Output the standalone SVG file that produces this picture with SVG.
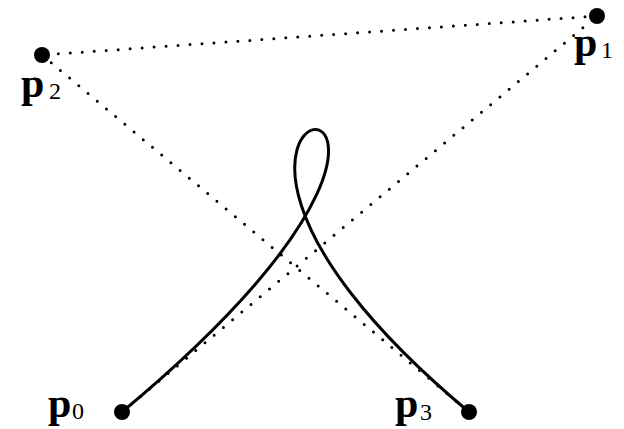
<svg xmlns="http://www.w3.org/2000/svg" width="624" height="429" viewBox="0 0 624 429">
<style>
.dot{fill:#000}
.ctl{fill:none;stroke:#000;stroke-width:3;stroke-linecap:round;stroke-dasharray:0 12}
.crv{fill:none;stroke:#000;stroke-width:3}
.lbl{font-family:"Liberation Serif","Times New Roman",serif;font-size:42px;font-weight:bold;fill:#000}
.sub{font-family:"Liberation Serif","Times New Roman",serif;font-size:24px;font-weight:normal;fill:#000}
</style>
<rect width="624" height="429" fill="#fff"/>
<g id="connectors">
<path class="ctl" d="M122,412 L597,16"/>
<path class="ctl" d="M597,16 L42,55"/>
<path class="ctl" d="M42,55 L469,412"/>
<path class="crv" d="M122,412 C597,16 42,55 469,412"/>
</g>
<g id="p0"><circle class="dot" cx="122" cy="412" r="8"/><text class="lbl" x="48" y="417">p<tspan class="sub" x="72" y="419">0</tspan></text></g>
<g id="p1"><circle class="dot" cx="597" cy="16" r="8"/><text class="lbl" x="574" y="56">p<tspan class="sub" x="601" y="58">1</tspan></text></g>
<g id="p2"><circle class="dot" cx="42" cy="55" r="8"/><text class="lbl" x="21" y="97">p<tspan class="sub" x="49" y="99">2</tspan></text></g>
<g id="p3"><circle class="dot" cx="469" cy="412" r="8"/><text class="lbl" x="395" y="417">p<tspan class="sub" x="420" y="420">3</tspan></text></g>
</svg>
